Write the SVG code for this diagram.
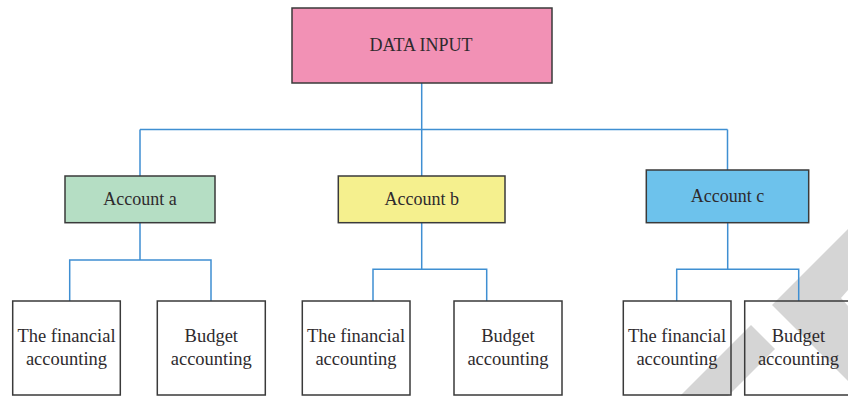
<svg xmlns="http://www.w3.org/2000/svg" width="848" height="396" viewBox="0 0 848 396">
<style>
.box{stroke:#3a3a3a;stroke-width:1.5}
.leaf{fill:none;stroke:#3a3a3a;stroke-width:1.5}
.t{font-family:"Liberation Serif","Times New Roman",serif;font-size:18px;fill:#2e2a2d;text-anchor:middle}
.l{font-size:18.5px}
.c{fill:none;stroke:#3f8fd2;stroke-width:1.5}
.wm{fill:#d5d5d5}
</style>
<rect width="848" height="396" fill="#ffffff"/>
<g id="watermark">
<polygon class="wm" points="848,229 772,305 848,381 848,306 841,298 848,290"/>
<polygon class="wm" points="751,325 775,349 728,396 680,396"/>
</g>
<g id="connectors">
<path class="c" d="M421.7 83V129.5M140 129.5H727.5M140 129.5V176M421.7 129.5V176M727.5 129.5V170"/>
<path class="c" d="M140 222.7V260M69.7 301V260H211V301"/>
<path class="c" d="M421.7 222.7V269.3M373 301V269.3H486.7V301"/>
<path class="c" d="M727.7 222.7V269.3M676.7 301V269.3H798.7V301"/>
</g>
<g id="data-input">
<rect class="box" x="292" y="8" width="260" height="75" fill="#f291b5"/>
<text class="t" x="421" y="50.5">DATA INPUT</text>
</g>
<g id="account-a">
<rect class="box" x="65" y="176" width="150" height="46.7" fill="#b5dec4"/>
<text class="t" x="140" y="205">Account a</text>
</g>
<g id="account-b">
<rect class="box" x="338.3" y="176" width="166.7" height="46.7" fill="#f5f08e"/>
<text class="t" x="421.7" y="205">Account b</text>
</g>
<g id="account-c">
<rect class="box" x="646.3" y="170" width="162.4" height="52.7" fill="#6dc2ec"/>
<text class="t" x="727.5" y="202">Account c</text>
</g>
<g id="a-financial">
<rect class="leaf" x="12.7" y="301" width="107.6" height="94"/>
<text class="t l" x="66.5" y="342">The financial</text>
<text class="t l" x="66.5" y="364.5">accounting</text>
</g>
<g id="a-budget">
<rect class="leaf" x="157.3" y="301" width="108" height="94"/>
<text class="t l" x="211.3" y="342">Budget</text>
<text class="t l" x="211.3" y="364.5">accounting</text>
</g>
<g id="b-financial">
<rect class="leaf" x="302.3" y="301" width="107.7" height="94"/>
<text class="t l" x="356" y="342">The financial</text>
<text class="t l" x="356" y="364.5">accounting</text>
</g>
<g id="b-budget">
<rect class="leaf" x="454" y="301" width="108" height="94"/>
<text class="t l" x="508" y="342">Budget</text>
<text class="t l" x="508" y="364.5">accounting</text>
</g>
<g id="c-financial">
<rect class="leaf" x="623.3" y="301" width="107.7" height="94"/>
<text class="t l" x="677" y="342">The financial</text>
<text class="t l" x="677" y="364.5">accounting</text>
</g>
<g id="c-budget">
<rect class="leaf" x="744.7" y="301" width="108" height="94"/>
<text class="t l" x="798.5" y="342">Budget</text>
<text class="t l" x="798.5" y="364.5">accounting</text>
</g>
</svg>
